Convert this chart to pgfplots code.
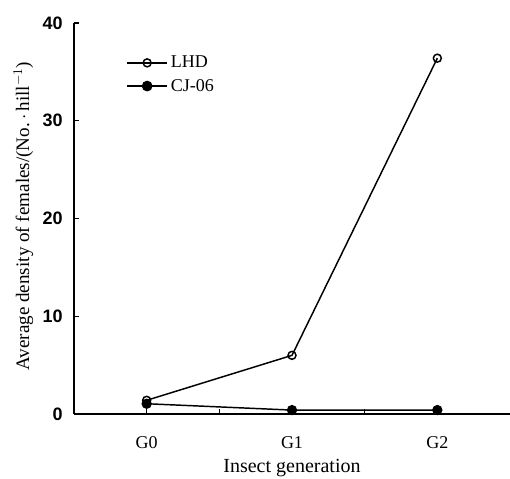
\documentclass[border=0pt]{standalone}
\usepackage{pgfplots}
\pgfplotsset{compat=1.18}
\usepackage{fontspec}
\setmainfont{Liberation Serif}
\newfontfamily\tickfont{Liberation Sans}
\begin{document}
\begin{tikzpicture}
\begin{axis}[
  scale only axis,
  width=327pt, height=293.25pt,
  xmin=-0.5, xmax=2.5,
  ymin=0, ymax=40,
  axis lines*=left,
  axis line style={line width=1.3pt},
  xtick={0,1,2},
  xticklabels={G0,G1,G2},
  extra x ticks={0.5,1.5},
  extra x tick labels={},
  x tick label style={font=\fontsize{13.5}{16}\selectfont, anchor=base, yshift=-26pt},
  ytick={0,10,20,30,40},
  y tick label style={font=\tickfont\bfseries\fontsize{13.5}{16}\selectfont, anchor=east, xshift=-5pt},
  /pgf/number format/assume math mode=true,
  tick style={black, line width=1pt},
  tick align=inside,
  major tick length=4pt,
  xlabel={Insect generation},
  ylabel={Average density of females/(No.\,$\cdot$\,hill$^{-1}$)},
  xlabel style={font=\fontsize{15}{17}\selectfont, at={(axis description cs:0.5,0)}, anchor=base, yshift=-44pt},
  ylabel style={font=\fontsize{14.3}{17}\selectfont, at={([xshift=-38pt]axis description cs:0,0.506)}, anchor=center},
  legend style={draw=none, fill=none, at={(axis description cs:0.11,0.93)}, anchor=north west, font=\fontsize{13.5}{16}\selectfont, row sep=3pt},
  legend image code/.code={\draw[line width=1.4pt, mark repeat=2, mark phase=2] plot coordinates {(0pt,0pt) (15pt,0pt) (30pt,0pt)};},
  legend cell align=left,
  clip=false,
]
\addplot[black, line width=1.1pt, mark=o, mark size=3pt, mark options={fill=white, line width=1.1pt}]
  coordinates {(0,1.4) (1,6.0) (2,36.4)};
\addlegendentry{LHD}
\addplot[black, line width=1.1pt, mark=*, mark size=3.3pt]
  coordinates {(0,1.05) (1,0.4) (2,0.4)};
\addlegendentry{CJ-06}
\end{axis}
\pgfresetboundingbox
\useasboundingbox ([xshift=-55.5pt,yshift=-48pt]current axis.south west) rectangle ([yshift=17.25pt]current axis.north east);
\end{tikzpicture}
\end{document}
